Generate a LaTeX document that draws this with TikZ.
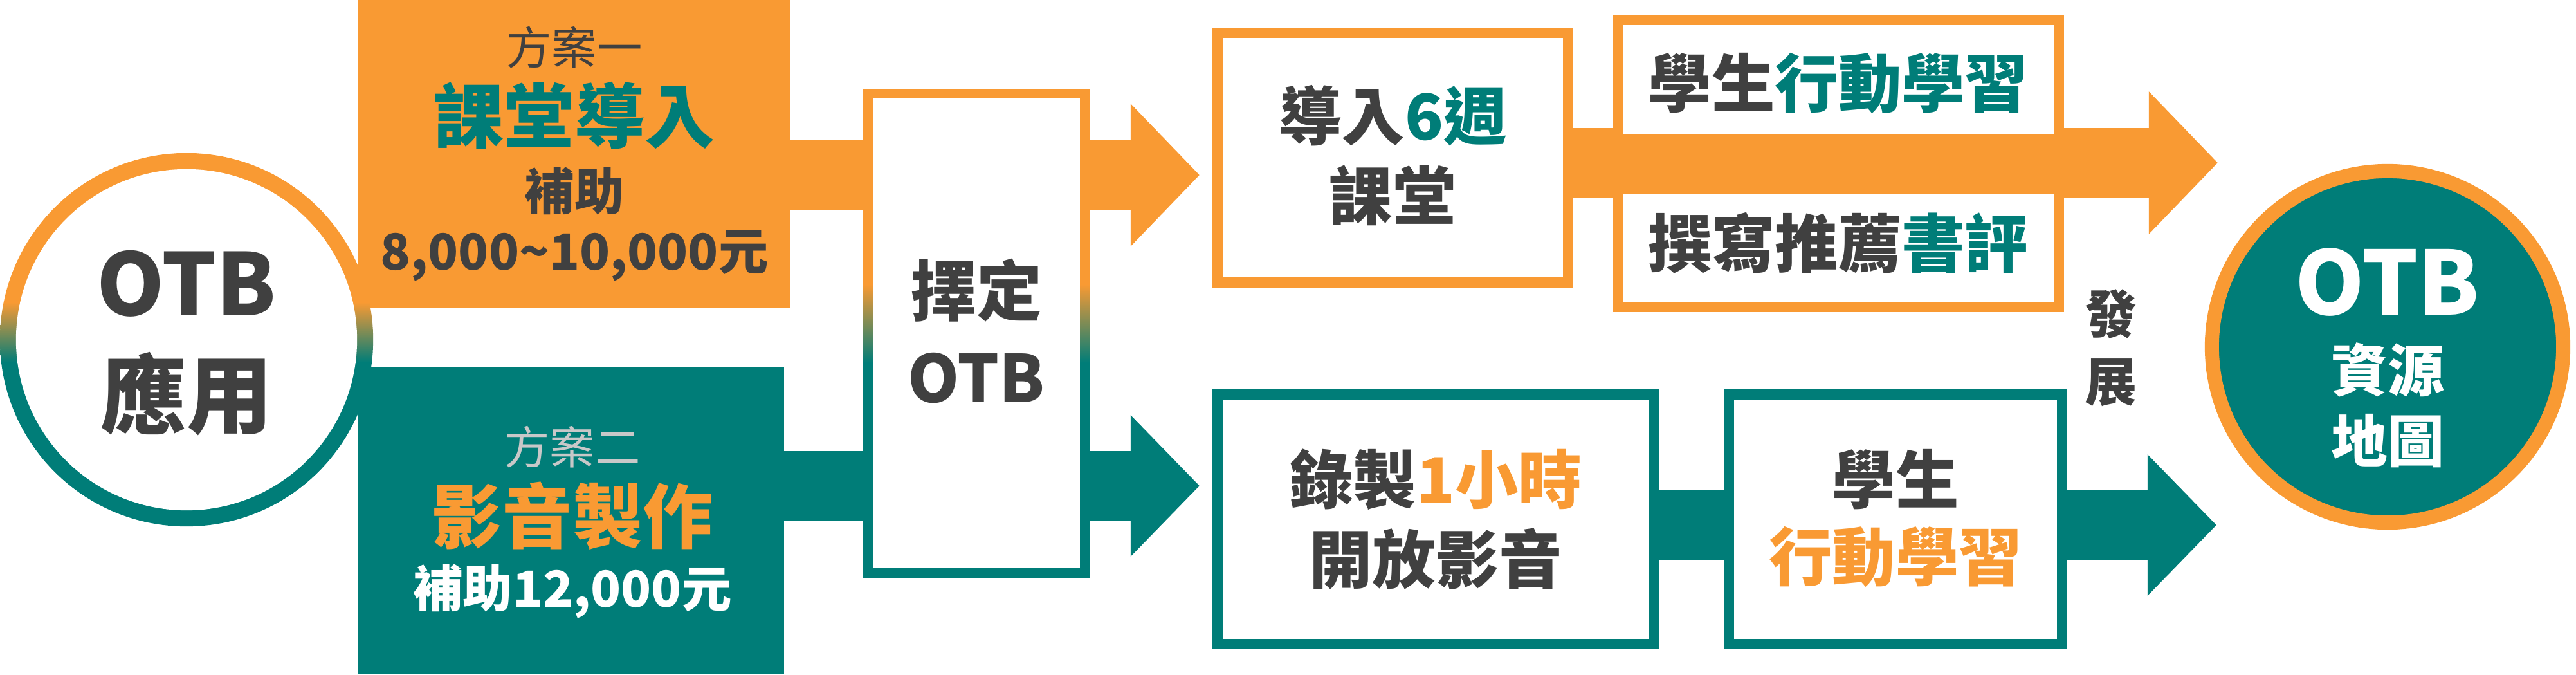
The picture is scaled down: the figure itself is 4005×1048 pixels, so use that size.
\documentclass[tikz,border=0pt]{standalone}
\usepackage{fontspec}
\setmainfont{Noto Sans CJK TC}
\usepackage{tikz}
\usetikzlibrary{arrows.meta}
\definecolor{otorange}{HTML}{F99A33}
\definecolor{otteal}{HTML}{007D78}
\definecolor{otgray}{HTML}{404040}
\definecolor{otlight}{HTML}{C8C8C8}
\newcommand{\fsz}[1]{\fontsize{#1}{#1}\selectfont}
\pgfdeclareverticalshading{otring}{100bp}{color(0bp)=(otteal); color(47bp)=(otteal); color(55bp)=(otorange); color(100bp)=(otorange)}

\begin{document}
\begin{tikzpicture}[
  x=0.01cm, y=-0.01cm,
  every node/.style={font=\bfseries, text=otgray, inner sep=0pt, align=center},
  obar/.style={draw=otorange, line width=1.08cm, -{Triangle[length=1.07cm, width=2.15cm]}},
  tbar/.style={draw=otteal, line width=1.07cm, -{Triangle[length=1.07cm, width=2.13cm]}},
  obox/.style={rectangle, draw=otorange, fill=white, line width=0.16cm},
  tbox/.style={rectangle, draw=otteal, fill=white, line width=0.16cm},
  ]
\useasboundingbox (0,0) rectangle (4005,1048);

% Plans
\node[fill=otorange, minimum width=6.71cm, minimum height=4.78cm] (plan1) at (892.5,239) {};
\node[fill=otteal, minimum width=6.62cm, minimum height=4.78cm] (plan2) at (888,809) {};

% Bands
\coordinate (o1s) at (1228,272);
\coordinate (o1e) at (1865,272);
\coordinate (t1s) at (1219,755);
\coordinate (t1e) at (1865,755);
\coordinate (o2s) at (2446,253);
\coordinate (o2e) at (3448,253);
\coordinate (t2s) at (2580,816);
\coordinate (t2e) at (3446,816);
\draw[obar] (o1s) -- (o1e);
\draw[tbar] (t1s) -- (t1e);
\draw[obar] (o2s) -- (o2e);
\draw[tbar] (t2s) -- (t2e);

% Left circle
\shade[shading=otring] (290,528) circle[radius=2.9cm];
\node[circle, fill=white, minimum size=5.3cm] (use) at (290,528) {};

% Choose box
\shade[shading=otring] (1342,138) rectangle (1694,898);
\node[fill=white, minimum width=3.22cm, minimum height=7.3cm] (choose) at (1518,518) {};

% Boxes
\node[obox, minimum width=5.45cm, minimum height=3.88cm] (intro) at (2165.5,245) {};
\node[obox, minimum width=6.85cm, minimum height=1.86cm] (act1) at (2858.5,124) {};
\node[obox, minimum width=6.85cm, minimum height=1.83cm] (review) at (2858.5,385.5) {};
\node[tbox, minimum width=6.79cm, minimum height=3.88cm] (record) at (2232.5,807) {};
\node[tbox, minimum width=5.18cm, minimum height=3.88cm] (act2) at (2947,807) {};

% Right circle
\node[circle, fill=otteal, draw=otorange, line width=0.22cm, minimum size=5.46cm] (map) at (3712,539) {};

% Texts
\node[font=\bfseries\fsz{38}] (useA) at (290,441) {OTB};
\node[font=\bfseries\fsz{38}] (useB) at (290,612) {應用};

\node[font=\fsz{20}] (p1a) at (893,74) {方案一};
\node[font=\bfseries\fsz{31}, text=otteal] (p1b) at (893,180) {課堂導入};
\node[font=\bfseries\fsz{22}] (p1c) at (893,297) {補助};
\node[font=\bfseries\fsz{22}] (p1d) at (893,398) {8,000\textasciitilde10,000元};

\node[font=\fsz{20}, text=otlight] (p2a) at (890,695) {方案二};
\node[font=\bfseries\fsz{31}, text=otorange] (p2b) at (890,802) {影音製作};
\node[font=\bfseries\fsz{22}, text=white] (p2c) at (890,919) {補助12,000元};

\node[font=\bfseries\fsz{29}] (chA) at (1518,451) {擇定};
\node[font=\bfseries\fsz{29}] (chB) at (1518,588) {OTB};

\node[font=\bfseries\fsz{28}] (inA) at (2165,180) {導入\textcolor{otteal}{6週}};
\node[font=\bfseries\fsz{28}] (inB) at (2165,304) {課堂};
\node[font=\bfseries\fsz{28}] (acA) at (2858,130) {學生\textcolor{otteal}{行動學習}};
\node[font=\bfseries\fsz{28}] (rvA) at (2858,378) {撰寫推薦\textcolor{otteal}{書評}};
\node[font=\bfseries\fsz{28}] (rcA) at (2232,745) {錄製\textcolor{otorange}{1小時}};
\node[font=\bfseries\fsz{28}] (rcB) at (2232,869) {開放影音};
\node[font=\bfseries\fsz{28}] (a2A) at (2947,745) {學生};
\node[font=\bfseries\fsz{28}, text=otorange] (a2B) at (2947,866) {行動學習};

\node[font=\bfseries\fsz{23}] (devA) at (3282,488) {發};
\node[font=\bfseries\fsz{23}] (devB) at (3282,595) {展};

\node[font=\bfseries\fsz{39}, text=white] (mapA) at (3712,438) {OTB};
\node[font=\bfseries\fsz{25}, text=white] (mapB) at (3712,575) {資源};
\node[font=\bfseries\fsz{25}, text=white] (mapC) at (3712,685) {地圖};
\end{tikzpicture}
\end{document}
